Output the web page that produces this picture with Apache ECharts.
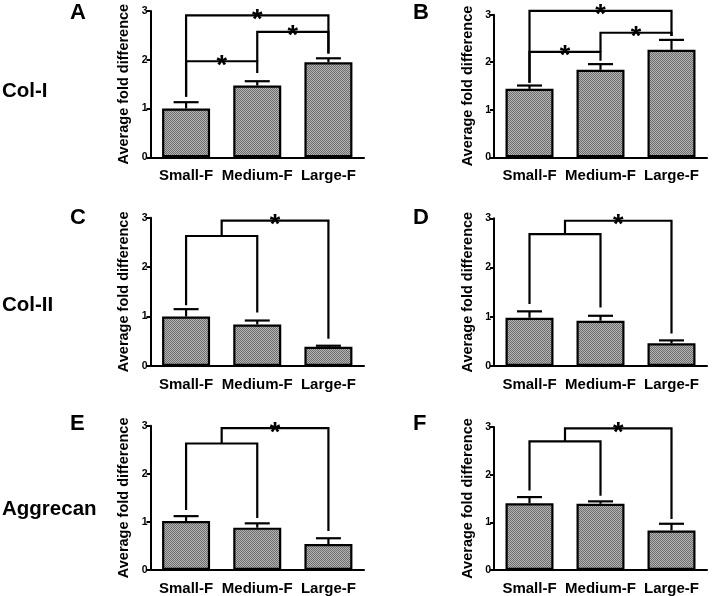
<!DOCTYPE html>
<html>
<head>
<meta charset="utf-8">
<script src="https://cdn.jsdelivr.net/npm/echarts@6/dist/echarts.min.js"></script>
<style>html,body{margin:0;padding:0;background:#fff}#c{width:713px;height:596px}</style>
</head>
<body>
<div id="c"></div>
<script>
const categories = ['Small-F', 'Medium-F', 'Large-F'];
const yTicks = [0, 1, 2, 3];
const panelLetters = ['A', 'B', 'C', 'D', 'E', 'F'];
const rowLabels = ['Col-I', 'Col-II', 'Aggrecan'];
const yAxisTitle = 'Average fold difference';

const meanA = [1.00, 1.47, 1.95]; const errA = [0.13, 0.09, 0.08];
const meanB = [1.44, 1.84, 2.26]; const errB = [0.07, 0.12, 0.21];
const meanC = [1.00, 0.84, 0.39]; const errC = [0.15, 0.08, 0.02];
const meanD = [0.98, 0.92, 0.46]; const errD = [0.13, 0.10, 0.06];
const meanE = [1.02, 0.88, 0.54]; const errE = [0.10, 0.09, 0.12];
const meanF = [1.40, 1.39, 0.83]; const errF = [0.13, 0.05, 0.14];

// brackets: [xLeft, xRight, yTop, yLeftEnd, yRightEnd, star]
const bracketsA = [[0, 1, 1.97, 1.24, 1.73, 1], [1, 2, 2.57, 1.97, 2.13, 1], [0, 2, 2.91, 1.24, 2.13, 1]];
const bracketsB = [[0, 1, 2.22, 1.57, 2.03, 1], [1, 2, 2.62, 2.22, 2.55, 1], [0, 2, 3.08, 1.57, 2.55, 1]];
const bracketsC = [[0, 1, 2.63, 1.23, 1.08, 0], [0.5, 2, 2.94, 2.63, 0.55, 1]];
const bracketsD = [[0, 1, 2.68, 1.26, 1.19, 0], [0.5, 2, 2.95, 2.68, 0.66, 1]];
const bracketsE = [[0, 1, 2.63, 1.25, 1.08, 0], [0.5, 2, 2.95, 2.63, 0.81, 1]];
const bracketsF = [[0, 1, 2.70, 1.67, 1.56, 0], [0.5, 2, 2.97, 2.70, 1.07, 1]];

const means = [meanA, meanB, meanC, meanD, meanE, meanF];
const errs = [errA, errB, errC, errD, errE, errF];
const brackets = [bracketsA, bracketsB, bracketsC, bracketsD, bracketsE, bracketsF];

// layout (pixels)
const grids = [
  {left: 150.5, top: 11, width: 213.5, height: 146.3},
  {left: 494, top: 14.7, width: 213, height: 142.6},
  {left: 150.5, top: 217.7, width: 213.5, height: 148.3},
  {left: 494, top: 218.3, width: 213, height: 147.7},
  {left: 150.5, top: 425.7, width: 213.5, height: 146},
  {left: 494, top: 427, width: 213, height: 143.3}
];
const FONT = 'Liberation Sans, Arial, Helvetica, sans-serif';

// crosshatch pattern
const pc = document.createElement('canvas');
pc.width = 2; pc.height = 2;
const pctx = pc.getContext('2d');
pctx.fillStyle = '#b4b4b4'; pctx.fillRect(0, 0, 2, 2);
pctx.fillStyle = '#6e6e6e'; pctx.fillRect(0, 0, 1, 1); pctx.fillRect(1, 1, 1, 1);

const option = {
  animation: false,
  backgroundColor: '#fff',
  grid: [], xAxis: [], yAxis: [], series: [],
  graphic: []
};

grids.forEach((g, i) => {
  option.grid.push(Object.assign({containLabel: false}, g));
  option.xAxis.push({
    type: 'category', gridIndex: i, data: categories,
    axisLine: {lineStyle: {color: '#000', width: 2}},
    axisTick: {alignWithLabel: true, length: 4, lineStyle: {color: '#000', width: 2}},
    axisLabel: {color: '#000', fontWeight: 'bold', fontSize: 15, fontFamily: FONT, margin: 11, interval: 0}
  });
  option.yAxis.push({
    type: 'value', gridIndex: i, min: yTicks[0], max: yTicks[yTicks.length - 1], interval: 1,
    name: yAxisTitle, nameLocation: 'middle', nameRotate: 90, nameGap: 19,
    nameTextStyle: {color: '#000', fontWeight: 'bold', fontSize: 14.5, fontFamily: FONT},
    axisLine: {show: true, lineStyle: {color: '#000', width: 2}},
    axisTick: {show: true, length: 4, lineStyle: {color: '#000', width: 2}},
    axisLabel: {color: '#000', fontWeight: 'bold', fontSize: 10.5, fontFamily: FONT, margin: 3},
    splitLine: {show: false}
  });
  option.series.push({
    type: 'bar', xAxisIndex: i, yAxisIndex: i, data: means[i], barWidth: 48,
    itemStyle: {color: {image: pc, repeat: 'repeat'}, borderColor: '#000', borderWidth: 2.2},
    z: 2
  });
  option.series.push({
    type: 'custom', xAxisIndex: i, yAxisIndex: i,
    data: means[i].map((m, k) => [k, m, errs[i][k]]),
    encode: {x: 0, y: 1},
    renderItem: function (params, api) {
      const k = api.value(0), m = api.value(1), e = api.value(2);
      const p0 = api.coord([k, m]);
      const p1 = api.coord([k, m + e]);
      const style = {stroke: '#000', lineWidth: 2.2, fill: null};
      return {type: 'group', children: [
        {type: 'line', shape: {x1: p0[0], y1: p0[1], x2: p1[0], y2: p1[1]}, style: style},
        {type: 'line', shape: {x1: p1[0] - 12.5, y1: p1[1], x2: p1[0] + 12.5, y2: p1[1]}, style: style}
      ]};
    },
    clip: false, z: 3
  });
  option.series.push({
    type: 'custom', xAxisIndex: i, yAxisIndex: i,
    data: brackets[i],
    encode: {x: 0, y: 2},
    renderItem: function (params, api) {
      const xl = api.value(0), xr = api.value(1), yt = api.value(2), yl = api.value(3), yr = api.value(4), st = api.value(5);
      const c0 = api.coord([0, 0]), c1 = api.coord([1, 0]);
      const dx = c1[0] - c0[0];
      const X = v => c0[0] + v * dx;
      const Y = v => api.coord([0, v])[1];
      const style = {stroke: '#000', lineWidth: 2.2, fill: null};
      const ch = [
        {type: 'polyline', shape: {points: [[X(xl), Y(yl)], [X(xl), Y(yt)], [X(xr), Y(yt)], [X(xr), Y(yr)]]}, style: style}
      ];
      if (st) {
        ch.push({type: 'text', style: {text: '*', x: (X(xl) + X(xr)) / 2, y: Y(yt) + 5, align: 'center', verticalAlign: 'middle',
          fontSize: 27, fontWeight: 'bold', fontFamily: FONT, fill: '#000'}});
      }
      return {type: 'group', children: ch};
    },
    clip: false, z: 4
  });
});

// panel letters
const letterPos = [[78, 13], [421, 13], [78, 218], [421, 218], [78, 424], [421, 424]];
panelLetters.forEach((L, i) => {
  option.graphic.push({type: 'text', left: letterPos[i][0] - 8, top: letterPos[i][1] - 11,
    style: {text: L, fontSize: 22, fontWeight: 'bold', fontFamily: FONT, fill: '#000'}});
});
const rowY = [92, 306, 510];
rowLabels.forEach((t, i) => {
  option.graphic.push({type: 'text', left: 2, top: rowY[i] - 11,
    style: {text: t, fontSize: 20.5, fontWeight: 'bold', fontFamily: FONT, fill: '#000'}});
});

const chart = echarts.init(document.getElementById('c'), null, {renderer: 'canvas'});
chart.setOption(option);
</script>
</body>
</html>
